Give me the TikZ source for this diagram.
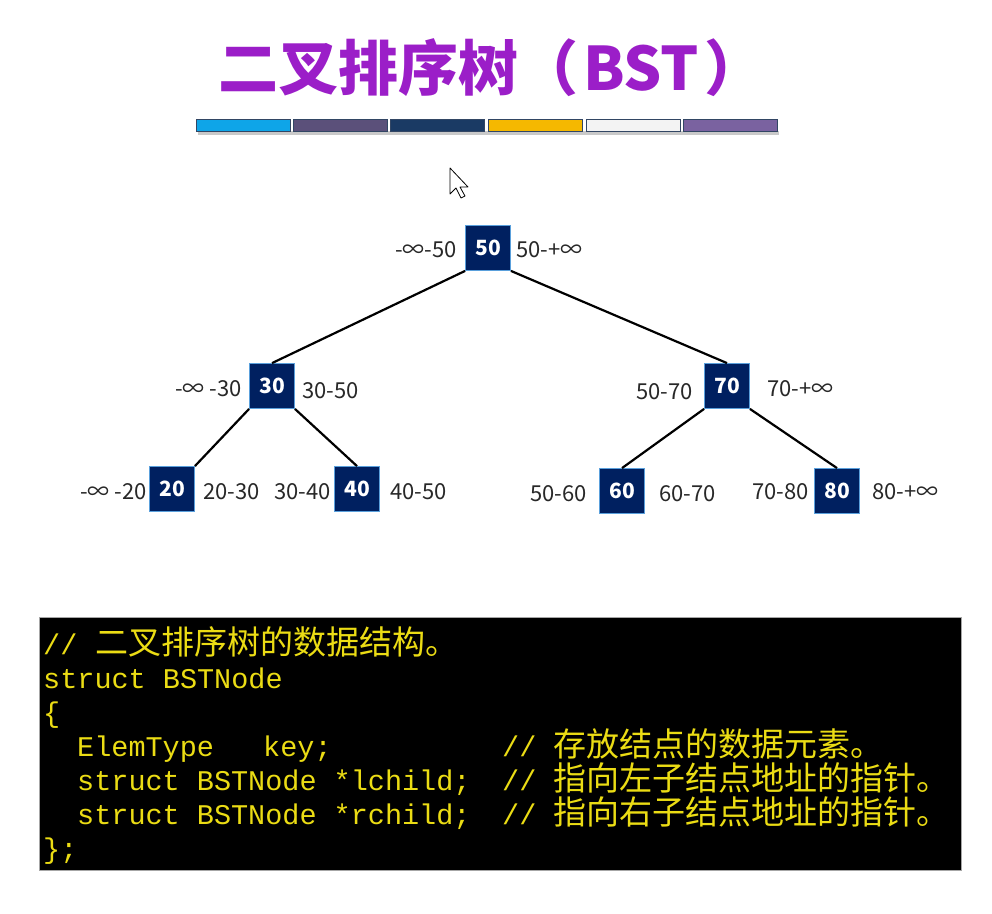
\documentclass[tikz,border=0pt]{standalone}
\usepackage{fontspec}
\setmainfont{Noto Sans CJK SC}
\newfontfamily\codefont{Liberation Mono}
\newfontfamily\codecjk{Noto Sans CJK SC}
\definecolor{titlepurple}{RGB}{155,30,200}
\definecolor{navy}{RGB}{0,32,96}
\definecolor{nodeborder}{RGB}{90,160,220}
\definecolor{labelgray}{RGB}{40,40,40}
\definecolor{codeyellow}{RGB}{235,220,20}
\definecolor{barA}{RGB}{14,165,232}
\definecolor{barB}{RGB}{91,80,122}
\definecolor{barC}{RGB}{26,58,100}
\definecolor{barD}{RGB}{245,184,0}
\definecolor{barE}{RGB}{243,243,243}
\definecolor{barF}{RGB}{122,98,160}
\definecolor{barline}{RGB}{50,70,100}
\begin{document}
\begin{tikzpicture}[x=1pt,y=-1pt,
  bstnode/.style={draw=nodeborder, line width=0.8pt, fill=navy, minimum size=45pt, inner sep=0pt, text=white, font=\bfseries\fontsize{21}{21}\selectfont},
  rng/.style={inner sep=0pt, text=labelgray, font=\fontsize{22}{22}\selectfont},
  treeline/.style={line width=2.2pt, black},
  barseg/.style={draw=barline, line width=0.8pt},
  codeline/.style={anchor=base west, inner sep=0pt, text=codeyellow, font=\codefont\fontsize{28.5}{28.5}\selectfont},
  codezh/.style={anchor=base west, inner sep=0pt, text=codeyellow, font=\codecjk\fontsize{33}{33}\selectfont}
]
\useasboundingbox (0,0) rectangle (992,913);
\fill[white] (0,0) rectangle (992,913);

% title
\node[text=titlepurple, inner sep=0pt, anchor=west, font=\bfseries\fontsize{60}{60}\selectfont] (title) at (218,68) {二叉排序树（\hspace{0.08em}BST\hspace{0.1em}）};

% colour bar
\fill[black!35, opacity=0.6] (198,131) rectangle (779,135);
\foreach \x/\c in {196/barA, 293/barB, 390/barC, 488/barD, 586/barE, 683/barF}
  \filldraw[barseg, fill=\c] (\x,119) rectangle ++(94,12);

% mouse cursor
\filldraw[fill=white, draw=black, line width=0.8pt, line join=round] (450,168) -- (450,194) -- (456,188) -- (461,198) -- (465,196) -- (460,187) -- (468,187) -- cycle;

% tree nodes
\node[bstnode] (n50) at (488,248) {50};
\node[bstnode] (n30) at (272,386) {30};
\node[bstnode] (n70) at (727,386) {70};
\node[bstnode] (n20) at (172,489) {20};
\node[bstnode] (n40) at (357,489) {40};
\node[bstnode] (n60) at (622,491) {60};
\node[bstnode] (n80) at (837,491) {80};

% edges
\draw[treeline] (n50.south west) -- (n30.north);
\draw[treeline] (n50.south east) -- (n70.north);
\draw[treeline] (n30.south west) -- (n20.north east);
\draw[treeline] (n30.south east) -- (n40.north);
\draw[treeline] (n70.south west) -- (n60.north);
\draw[treeline] (n70.south east) -- (n80.north);

% range labels
\node[rng, anchor=east] (l50a) at (457,250) {-∞-50};
\node[rng, anchor=west] (l50b) at (516,250) {50-+∞};
\node[rng, anchor=east] (l30a) at (242,389) {-∞ -30};
\node[rng, anchor=west] (l30b) at (302,391) {30-50};
\node[rng, anchor=east] (l70a) at (693,392) {50-70};
\node[rng, anchor=west] (l70b) at (767,389) {70-+∞};
\node[rng, anchor=east] (l20a) at (147,492) {-∞ -20};
\node[rng, anchor=west] (l20b) at (203,492) {20-30};
\node[rng, anchor=east] (l40a) at (331,492) {30-40};
\node[rng, anchor=west] (l40b) at (390,492) {40-50};
\node[rng, anchor=east] (l60a) at (587,494) {50-60};
\node[rng, anchor=west] (l60b) at (659,494) {60-70};
\node[rng, anchor=east] (l80a) at (809,492) {70-80};
\node[rng, anchor=west] (l80b) at (872,492) {80-+∞};

% code block
\filldraw[fill=black, draw=black!35, line width=0.8pt] (39,617) rectangle (961,870);
\node[codeline] (c1a) at (43,654) {//};
\node[codezh] (c1b) at (95,654) {二叉排序树的数据结构。};
\node[codeline] (c2) at (43,688) {struct BSTNode};
\node[codeline] (c3) at (43,722) {\{};
\node[codeline] (c4a) at (77,756) {ElemType};
\node[codeline] (c4b) at (263,756) {key;};
\node[codeline] (c4c) at (502,756) {//};
\node[codezh] (c4d) at (553,756) {存放结点的数据元素。};
\node[codeline] (c5a) at (77,790) {struct BSTNode *lchild;};
\node[codeline] (c5c) at (502,790) {//};
\node[codezh] (c5d) at (553,790) {指向左子结点地址的指针。};
\node[codeline] (c6a) at (77,824) {struct BSTNode *rchild;};
\node[codeline] (c6c) at (502,824) {//};
\node[codezh] (c6d) at (553,824) {指向右子结点地址的指针。};
\node[codeline] (c7) at (43,858) {\};};
\end{tikzpicture}
\end{document}
